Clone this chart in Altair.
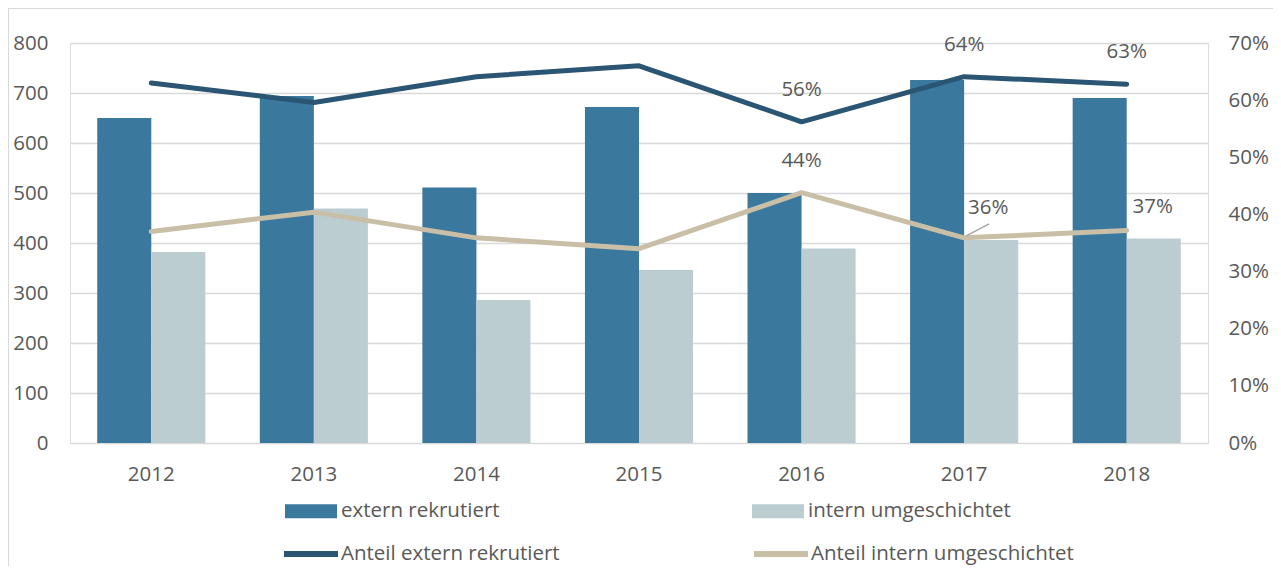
import altair as alt
import pandas as pd

years = ["2012", "2013", "2014", "2015", "2016", "2017", "2018"]
extern = [650, 694, 511, 672, 500, 726, 690]
intern = [382, 469, 286, 346, 389, 406, 409]
share_extern = [63.0, 59.6, 64.1, 66.0, 56.2, 64.1, 62.8]
share_intern = [37.0, 40.4, 35.9, 34.0, 43.8, 35.9, 37.2]
label_extern = ["", "", "", "", "56%", "64%", "63%"]
label_intern = ["", "", "", "", "44%", "36%", "37%"]

bar_series = ["extern rekrutiert", "intern umgeschichtet"]
line_series = ["Anteil extern rekrutiert", "Anteil intern umgeschichtet"]

FONT = "Open Sans"
TXT = "#595959"
FS = 20.5

bars_df = pd.DataFrame({
    "year": years * 2,
    "series": [bar_series[0]] * 7 + [bar_series[1]] * 7,
    "value": extern + intern,
})
lines_df = pd.DataFrame({
    "year": years * 2,
    "series": [line_series[0]] * 7 + [line_series[1]] * 7,
    "share": [v / 100 for v in share_extern + share_intern],
    "label": label_extern + label_intern,
})

xenc = alt.X("year:N", title=None,
             scale=alt.Scale(paddingInner=0.335, paddingOuter=0.1675),
             axis=alt.Axis(labelAngle=0, domain=False, ticks=False, labelPadding=21,
                           labelFontSize=FS, labelColor=TXT, labelFont=FONT, grid=False))

bars = alt.Chart(bars_df).mark_bar().encode(
    x=xenc,
    xOffset=alt.XOffset("series:N", sort=bar_series,
                        scale=alt.Scale(paddingInner=0, paddingOuter=0)),
    y=alt.Y("value:Q", title=None, scale=alt.Scale(domain=[0, 800]),
            axis=alt.Axis(values=list(range(0, 801, 100)), grid=True, gridColor="#d9d9d9",
                          gridWidth=1.5, domain=False, ticks=False, labelPadding=22,
                          labelFontSize=FS, labelColor=TXT, labelFont=FONT)),
    fill=alt.Fill("series:N", sort=bar_series,
                  scale=alt.Scale(domain=bar_series, range=["#3b789e", "#bccdd2"]),
                  legend=alt.Legend(title=None, orient="none", legendX=215, legendY=442,
                                    direction="horizontal", columns=2, columnPadding=252,
                                    symbolType="M-1,-0.27H1V0.27H-1Z", symbolSize=2704,
                                    symbolStrokeWidth=0, labelFontSize=FS, labelColor=TXT,
                                    labelFont=FONT, labelOffset=4, labelLimit=400)),
)

yshare = alt.Y("share:Q", title=None, scale=alt.Scale(domain=[0, 0.7]),
               axis=alt.Axis(orient="right", format=".0%", values=[i / 10 for i in range(8)],
                             grid=False, domain=False, ticks=False, labelPadding=20,
                             labelFontSize=FS, labelColor=TXT, labelFont=FONT))

lines = alt.Chart(lines_df).mark_line(strokeWidth=5, strokeCap="round", strokeJoin="round").encode(
    x="year:N",
    y=yshare,
    stroke=alt.Stroke("series:N", sort=line_series,
                      scale=alt.Scale(domain=line_series, range=["#2a5674", "#c9bfa7"]),
                      legend=alt.Legend(title=None, orient="none", legendX=211, legendY=481,
                                        direction="horizontal", columns=2, columnPadding=182,
                                        symbolType="stroke", symbolSize=2916,
                                        symbolStrokeWidth=6, labelFontSize=FS, labelColor=TXT,
                                        labelFont=FONT, labelOffset=0, labelLimit=400)),
)

base_lbl = alt.Chart(lines_df).transform_filter("datum.label != ''")
lbl_above = base_lbl.transform_filter(
    "datum.series == 'Anteil extern rekrutiert' || datum.year == '2016'"
).mark_text(dy=-32, fontSize=FS, color=TXT, font=FONT).encode(
    x="year:N", y="share:Q", text="label:N")
lbl_2017 = base_lbl.transform_filter(
    "datum.series == 'Anteil intern umgeschichtet' && datum.year == '2017'"
).mark_text(dx=24, dy=-30, fontSize=FS, color=TXT, font=FONT).encode(
    x="year:N", y="share:Q", text="label:N")
lbl_2018 = base_lbl.transform_filter(
    "datum.series == 'Anteil intern umgeschichtet' && datum.year == '2018'"
).mark_text(dx=26, dy=-23, fontSize=FS, color=TXT, font=FONT).encode(
    x="year:N", y="share:Q", text="label:N")
leader = base_lbl.transform_filter(
    "datum.series == 'Anteil intern umgeschichtet' && datum.year == '2017'"
).mark_rule(color="#a6a6a6", strokeWidth=1.5, xOffset=2, yOffset=-2,
            x2Offset=25, y2Offset=-14).encode(
    x="year:N", x2="year:N", y="share:Q", y2="share:Q")

frame = alt.Chart(pd.DataFrame({"a": [0]})).mark_rect(
    fill="transparent", stroke="#d9d9d9", strokeWidth=2).encode(
    x=alt.value(-62), x2=alt.value(1205), y=alt.value(-35), y2=alt.value(700))

right = alt.layer(lines, leader, lbl_above, lbl_2017, lbl_2018)

chart = alt.layer(frame, bars, right).resolve_scale(
    y="independent", color="independent"
).properties(
    width=1138, height=400,
    autosize=alt.AutoSizeParams(type="none"),
    padding={"left": 62, "top": 35, "right": 65, "bottom": 123},
).configure_view(stroke=None).configure(background="white")

chart.save("out.html", embed_options={"renderer": "svg", "actions": False})
